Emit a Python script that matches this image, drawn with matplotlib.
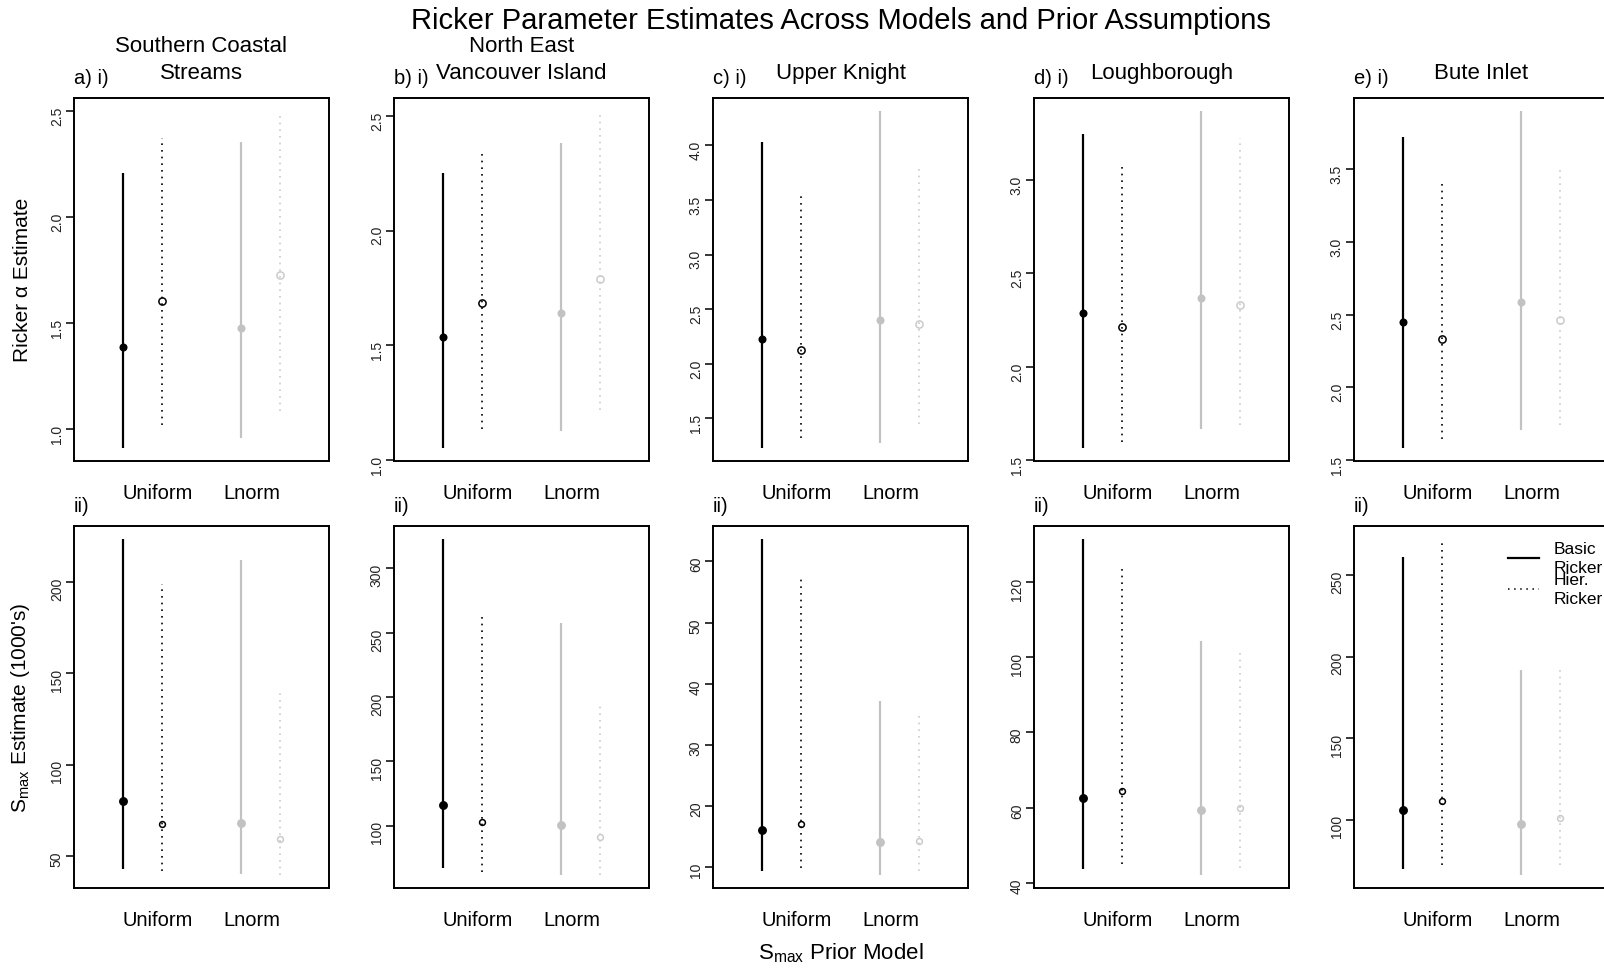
import numpy as np
import matplotlib
matplotlib.use("Agg")
import matplotlib.pyplot as plt
from matplotlib import transforms
from matplotlib.ticker import MultipleLocator, FormatStrFormatter

plt.rcParams['font.family'] = ['Liberation Sans', 'DejaVu Sans']
plt.rcParams['mathtext.fontset'] = 'custom'
plt.rcParams['mathtext.rm'] = 'Liberation Sans'

# stream names and panel letters
streams = ['Southern Coastal\nStreams', 'North East\nVancouver Island',
           'Upper Knight', 'Loughborough', 'Bute Inlet']
letters = ['a', 'b', 'c', 'd', 'e']
prior_labels = ['Uniform', 'Lnorm']

# series order in every row: basic/uniform, hier/uniform, basic/lnorm, hier/lnorm
alpha_med = [[1.389, 1.607, 1.477, 1.728],
             [1.537, 1.683, 1.640, 1.788],
             [2.229, 2.128, 2.396, 2.360],
             [2.287, 2.213, 2.366, 2.332],
             [2.452, 2.331, 2.587, 2.466]]
alpha_lo = [[0.913, 1.019, 0.956, 1.087],
            [1.054, 1.133, 1.126, 1.217],
            [1.232, 1.323, 1.277, 1.445],
            [1.568, 1.600, 1.669, 1.689],
            [1.587, 1.649, 1.708, 1.740]]
alpha_hi = [[2.207, 2.374, 2.358, 2.500],
            [2.251, 2.352, 2.381, 2.519],
            [4.027, 3.549, 4.311, 3.784],
            [3.248, 3.069, 3.367, 3.224],
            [3.720, 3.406, 3.898, 3.498]]

smax_med = [[80.4, 67.4, 68.3, 59.2],
            [116.1, 102.6, 101.0, 91.7],
            [16.1, 17.15, 14.2, 14.3],
            [62.6, 64.5, 59.3, 60.0],
            [106.3, 111.6, 97.6, 101.2]]
smax_lo = [[42.9, 41.8, 40.5, 40.0],
           [67.3, 64.5, 62.1, 62.1],
           [9.35, 9.9, 8.8, 9.46],
           [43.8, 45.0, 42.2, 43.9],
           [69.7, 72.6, 66.5, 72.6]]
smax_hi = [[223.1, 198.5, 211.7, 139.9],
           [322.6, 265.8, 258.0, 196.2],
           [63.6, 57.1, 37.1, 34.9],
           [131.3, 124.7, 104.2, 101.6],
           [260.8, 271.7, 191.7, 192.5]]

alpha_step = [0.5, 0.5, 0.5, 0.5, 0.5]
smax_step = [50, 50, 10, 20, 50]

W, H = 1604, 970
fig = plt.figure(figsize=(W / 100, H / 100), dpi=100)

xpos = [1, 2, 4, 5]
label_x = [1.89, 4.28]
cols = ['black', 'black', '#c2c2c2', '#cbcbcb']
styles = ['-', (0, (1, 3)), '-', (0, (1, 3))]
widths = [1.6, 1.2, 1.6, 1.2]
filled = [True, False, True, False]

col_left = [74, 394, 713, 1034, 1354]
ax_w = 255
rows = [(99, 462), (527, 889)]


def draw_panel(ax, med, lo, hi, step, fmt, msize):
    for k in range(4):
        ax.vlines(xpos[k], lo[k], hi[k], colors=cols[k], linestyles=styles[k],
                  linewidth=widths[k])
        if filled[k]:
            ax.plot(xpos[k], med[k], 'o', color=cols[k], ms=msize[0], mew=0)
        else:
            ax.plot(xpos[k], med[k], 'o', mfc='none', mec=cols[k], ms=msize[1], mew=1.1)
    rng = max(hi) - min(lo)
    ax.set_ylim(min(lo) - 0.04 * rng, max(hi) + 0.04 * rng)
    ax.set_xlim(-0.25, 6.25)
    ax.yaxis.set_major_locator(MultipleLocator(step))
    ax.yaxis.set_major_formatter(FormatStrFormatter(fmt))
    ax.set_xticks([])
    ax.tick_params(axis='y', length=5.8, width=1.1, pad=1.5, labelsize=10,
                   labelrotation=90, labelcolor='#222222')
    for s in ax.spines.values():
        s.set_linewidth(1.4)
    tr = transforms.blended_transform_factory(ax.transData, ax.transAxes)
    for xl, lab in zip(label_x, prior_labels):
        ax.text(xl, -0.086, lab, transform=tr, ha='center', va='center', fontsize=14.5)


for i in range(5):
    left = col_left[i]
    top, bot = rows[0]
    ax1 = fig.add_axes([left / W, 1 - bot / H, ax_w / W, (bot - top) / H])
    draw_panel(ax1, alpha_med[i], alpha_lo[i], alpha_hi[i], alpha_step[i], '%.1f', (5.8, 5.2))
    top, bot = rows[1]
    ax2 = fig.add_axes([left / W, 1 - bot / H, ax_w / W, (bot - top) / H])
    draw_panel(ax2, smax_med[i], smax_lo[i], smax_hi[i], smax_step[i], '%d', (6.4, 4.2))

    # panel tags
    fig.text(left / W, 1 - 78 / H, letters[i] + ') i)', ha='left', va='center', fontsize=14.5)
    fig.text(left / W, 1 - 506 / H, 'ii)', ha='left', va='center', fontsize=14.5)

    # stream title, last line sits at the same height in all panels
    lines = streams[i].split('\n')
    cx = (left + ax_w / 2) / W
    for j, ln in enumerate(reversed(lines)):
        fig.text(cx, 1 - (73.5 - 27 * j) / H, ln, ha='center', va='center', fontsize=16)

    if i == 0:
        fig.text(23 / W, 1 - 280 / H, 'Ricker α Estimate', rotation=90,
                 ha='center', va='center', fontsize=15)
        fig.text(21 / W, 1 - 708 / H, "S$_\\mathregular{max}$ Estimate (1000's)",
                 rotation=90, ha='center', va='center', fontsize=15)
    if i == 4:
        # legend drawn by hand so the two-line labels overlap as in the original
        ax2.plot([0.604, 0.725], [0.912, 0.912], color='black', lw=1.6,
                 transform=ax2.transAxes, clip_on=False)
        ax2.plot([0.604, 0.725], [0.826, 0.826], color='black', lw=1.1,
                 linestyle=(0, (1, 3)), transform=ax2.transAxes, clip_on=False)
        ax2.text(0.784, 0.912, 'Basic\nRicker', transform=ax2.transAxes,
                 ha='left', va='center', fontsize=12.5, linespacing=1.3)
        ax2.text(0.784, 0.826, 'Hier.\nRicker', transform=ax2.transAxes,
                 ha='left', va='center', fontsize=12.5, linespacing=1.3)

fig.text(841 / W, 1 - 21 / H, 'Ricker Parameter Estimates Across Models and Prior Assumptions',
         ha='center', va='center', fontsize=21)
fig.text(841 / W, 1 - 953 / H, 'S$_\\mathregular{max}$ Prior Model',
         ha='center', va='center', fontsize=16)

fig.savefig('out.png', dpi=100)
